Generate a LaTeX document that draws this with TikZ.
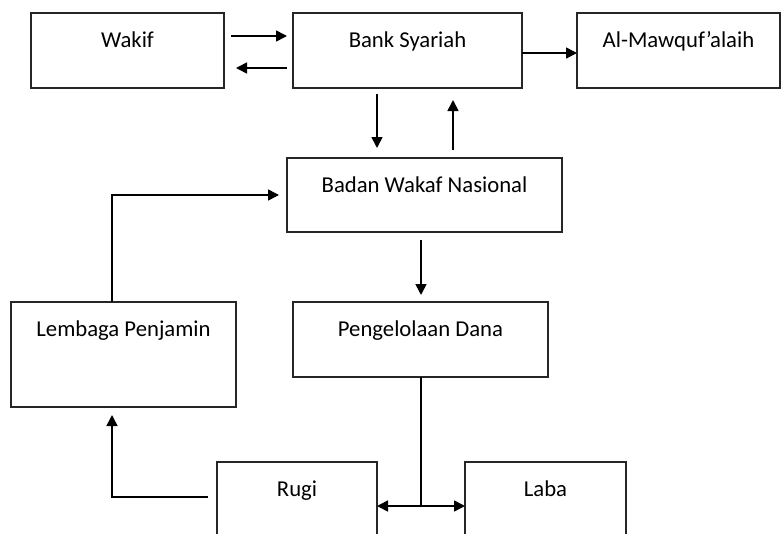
\documentclass[tikz,border=0pt]{standalone}
\usepackage{fontspec}
\setmainfont{Carlito}
\usetikzlibrary{arrows.meta}
\begin{document}
\begin{tikzpicture}[x=1pt,y=-1pt,
  box/.style={draw=black!85, line width=1.6pt, rectangle, outer sep=0pt, inner sep=0pt},
  lbl/.style={anchor=base, yshift=-34.5pt, font=\fontsize{22.7}{27}\selectfont, text=black},
  arr/.style={line width=1.6pt, -{Triangle[length=11pt,width=11pt]}},
  ln/.style={line width=1.6pt}]
\useasboundingbox (0,0) rectangle (782,533);
\clip (0,0) rectangle (782,533);
\node[box, minimum width=193pt, minimum height=75pt, label={[lbl]north:Wakif}] (wakif) at (127.5,50.5) {};
\node[box, minimum width=229pt, minimum height=75pt, label={[lbl]north:Bank Syariah}] (bank) at (407.5,50.5) {};
\node[box, minimum width=203pt, minimum height=75pt, label={[lbl]north:Al-Mawquf’alaih}] (al) at (678.5,50.5) {};
\node[box, minimum width=275pt, minimum height=74pt, label={[lbl]north:Badan Wakaf Nasional}] (badan) at (424.5,195) {};
\node[box, minimum width=225pt, minimum height=105pt, label={[lbl]north:Lembaga Penjamin}] (lemb) at (123.5,354.5) {};
\node[box, minimum width=255pt, minimum height=75pt, label={[lbl]north:Pengelolaan Dana}] (peng) at (420.5,339.5) {};
\node[box, minimum width=160pt, minimum height=88pt, label={[lbl]north:Rugi}] (rugi) at (297,506) {};
\node[box, minimum width=161pt, minimum height=88pt, label={[lbl]north:Laba}] (laba) at (545.5,506) {};
\coordinate (j) at ([xshift=0.5pt]peng.south |- rugi.east);
% connectors
\draw[arr, shorten <=7pt, shorten >=6pt] ([yshift=14.5pt]wakif.east) -- ([yshift=14.5pt]bank.west);
\draw[arr, shorten <=6pt, shorten >=12pt] ([yshift=-17.5pt]bank.west) -- ([yshift=-17.5pt]wakif.east);
\draw[arr] ([yshift=-2.5pt]bank.east) -- ([yshift=-2.5pt]al.west);
\draw[arr, shorten <=6pt, shorten >=10pt] ([xshift=-30.5pt]bank.south) -- ([xshift=-30.5pt]bank.south |- badan.north);
\draw[arr, shorten <=8pt, shorten >=12pt] ([xshift=28.5pt]badan.north) -- ([xshift=28.5pt]badan.north |- bank.south);
\draw[arr, shorten >=8pt] ([xshift=-11.5pt]lemb.north) |- (badan.west);
\draw[arr, shorten <=8pt, shorten >=7pt] ([xshift=-3.5pt]badan.south) -- ([xshift=-3.5pt]badan.south |- peng.north);
\draw[ln] ([xshift=0.5pt]peng.south) -- (j);
\draw[arr] (j) -- (rugi.east);
\draw[arr] (j) -- (laba.west);
\draw[arr, shorten <=9pt, shorten >=8pt] ([yshift=9pt]rugi.west) -| ([xshift=-11.5pt]lemb.south);
\end{tikzpicture}
\end{document}
